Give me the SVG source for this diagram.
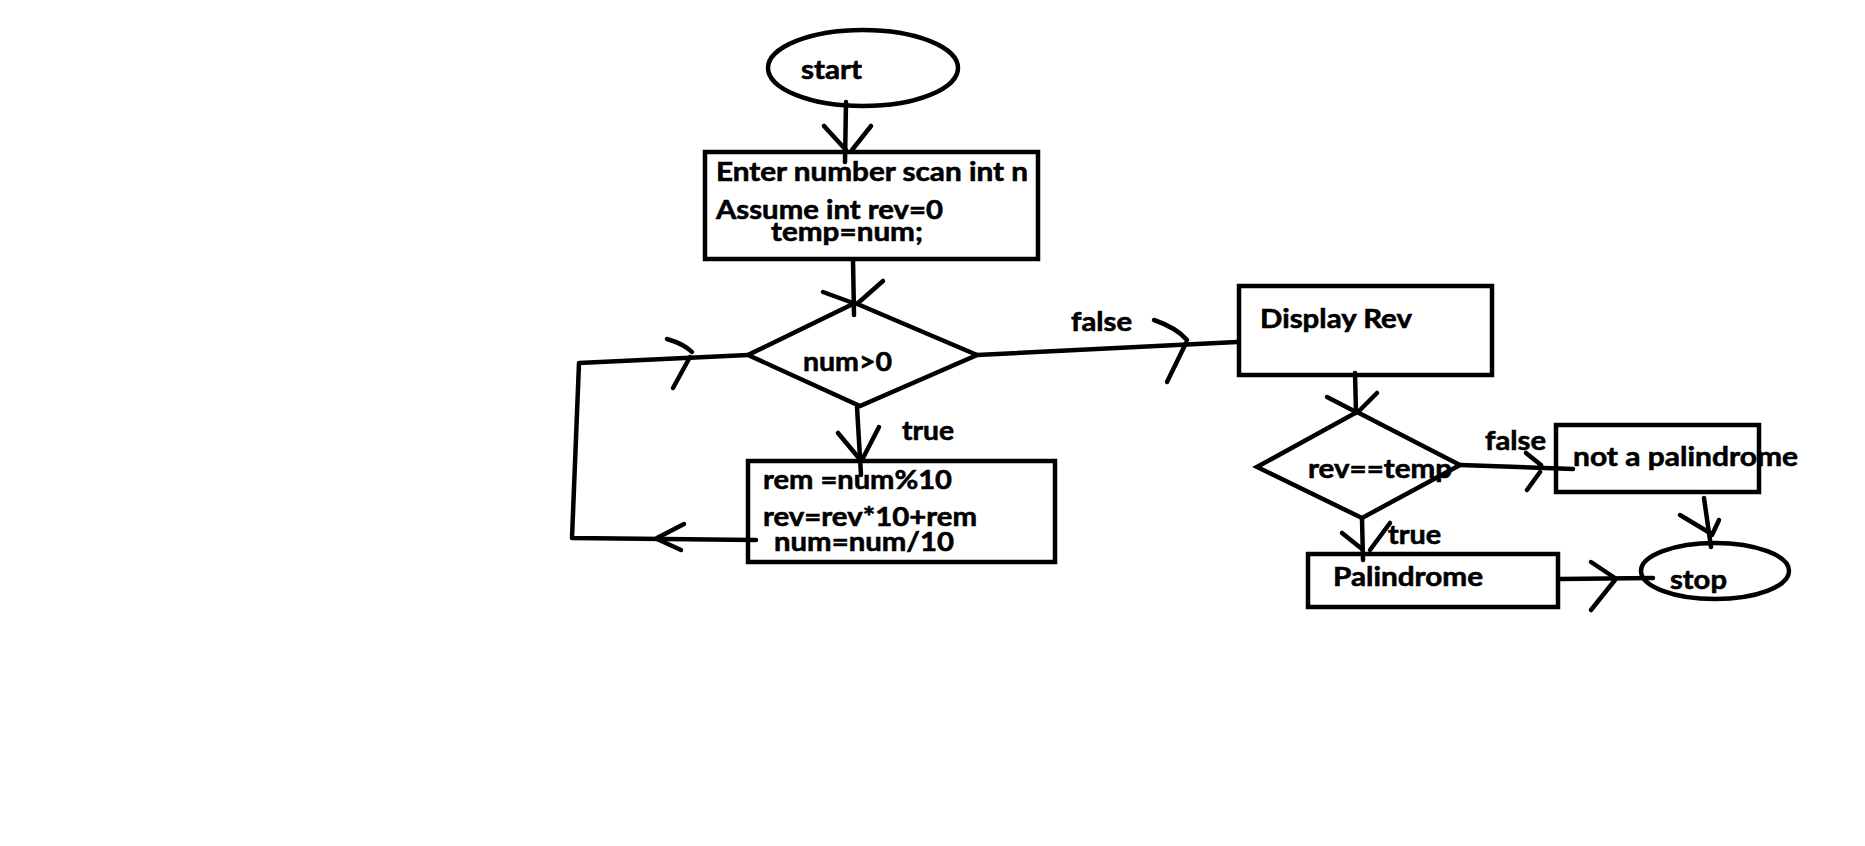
<svg xmlns="http://www.w3.org/2000/svg" width="1865" height="846" viewBox="0 0 1865 846">
<style>
.s{fill:none;stroke:#000;stroke-width:4.5;stroke-linecap:round;stroke-linejoin:round}
.b{fill:#fff;stroke:#000;stroke-width:4.5}
.t{font-family:Lato,"Open Sans","Liberation Sans",sans-serif;font-weight:bold;font-size:27px;fill:#000;stroke:#000;stroke-width:0.6}
</style>
<rect width="1865" height="846" fill="#fff"/>
<g id="start">
<ellipse class="b" cx="863" cy="68" rx="95" ry="38"/>
<text class="t" x="801" y="79" textLength="61" lengthAdjust="spacingAndGlyphs">start</text>
</g>
<g id="input">
<rect class="b" x="705" y="152" width="333" height="107"/>
<text class="t" x="716" y="181" textLength="312" lengthAdjust="spacingAndGlyphs">Enter number scan int n</text>
<text class="t" x="716" y="219" textLength="227" lengthAdjust="spacingAndGlyphs">Assume int rev=0</text>
<text class="t" x="771" y="241" textLength="152" lengthAdjust="spacingAndGlyphs">temp=num;</text>
</g>
<g id="cond1">
<polygon class="b" points="855,303 977,355 860,406 748,355"/>
<text class="t" x="803" y="371" textLength="89" lengthAdjust="spacingAndGlyphs">num&gt;0</text>
</g>
<g id="loop">
<rect class="b" x="748" y="461" width="307" height="101"/>
<text class="t" x="763" y="489" textLength="189" lengthAdjust="spacingAndGlyphs">rem =num%10</text>
<text class="t" x="763" y="526" textLength="214" lengthAdjust="spacingAndGlyphs">rev=rev*10+rem</text>
<text class="t" x="774" y="551" textLength="180" lengthAdjust="spacingAndGlyphs">num=num/10</text>
</g>
<g id="display">
<rect class="b" x="1239" y="286" width="253" height="89"/>
<text class="t" x="1260" y="328" textLength="152" lengthAdjust="spacingAndGlyphs">Display Rev</text>
</g>
<g id="cond2">
<polygon class="b" points="1357,412 1460,465 1362,518 1257,467"/>
</g>
<g id="notpal">
<rect class="b" x="1556" y="425" width="203" height="67"/>
</g>
<g id="pal">
<rect class="b" x="1308" y="554" width="250" height="53"/>
<text class="t" x="1333" y="586" textLength="150" lengthAdjust="spacingAndGlyphs">Palindrome</text>
</g>
<g id="stop">
<ellipse class="b" cx="1715" cy="571" rx="74" ry="28"/>
<text class="t" x="1670" y="589" textLength="57" lengthAdjust="spacingAndGlyphs">stop</text>
</g>
<g id="connectors">
<path class="s" d="M846,102 L845,162"/>
<path class="s" d="M824,126 L846,150 M871,126 L852,150"/>
<path class="s" d="M853,260 L854,315"/>
<path class="s" d="M823,292 L853,303 M883,281 L858,303"/>
<path class="s" d="M857,407 L861,475"/>
<path class="s" d="M838,433 L858,457 M879,427 L863,458"/>
<path class="s" d="M756,540 L572,538 L579,363 L748,355"/>
<path class="s" d="M684,524 L657,538 M681,550 L657,539"/>
<path class="s" d="M667,339 Q684,344 692,352 M673,388 L690,357"/>
<path class="s" d="M977,355 L1237,342"/>
<path class="s" d="M1154,320 Q1177,328 1187,340 M1167,382 L1186,343"/>
<path class="s" d="M1355,373 L1356,413"/>
<path class="s" d="M1327,397 L1356,412 M1377,393 L1358,412"/>
<path class="s" d="M1460,465 L1573,469"/>
<path class="s" d="M1526,453 L1541,465 M1527,490 L1540,472"/>
<path class="s" d="M1362,518 L1363,560"/>
<path class="s" d="M1342,533 L1362,549 M1390,523 L1370,550"/>
<path class="s" d="M1704,498 L1711,547"/>
<path class="s" d="M1680,515 L1710,533 M1719,520 L1712,535"/>
<path class="s" d="M1560,579 L1653,578"/>
<path class="s" d="M1591,562 L1615,578 M1591,610 L1615,580"/>
</g>
<g id="labels">
<text class="t" x="902" y="440" textLength="52" lengthAdjust="spacingAndGlyphs">true</text>
<text class="t" x="1071" y="331" textLength="61" lengthAdjust="spacingAndGlyphs">false</text>
<text class="t" x="1308" y="478" textLength="144" lengthAdjust="spacingAndGlyphs">rev==temp</text>
<text class="t" x="1485" y="450" textLength="61" lengthAdjust="spacingAndGlyphs">false</text>
<text class="t" x="1573" y="466" textLength="225" lengthAdjust="spacingAndGlyphs">not a palindrome</text>
<text class="t" x="1388" y="544" textLength="53" lengthAdjust="spacingAndGlyphs">true</text>
</g>
</svg>
